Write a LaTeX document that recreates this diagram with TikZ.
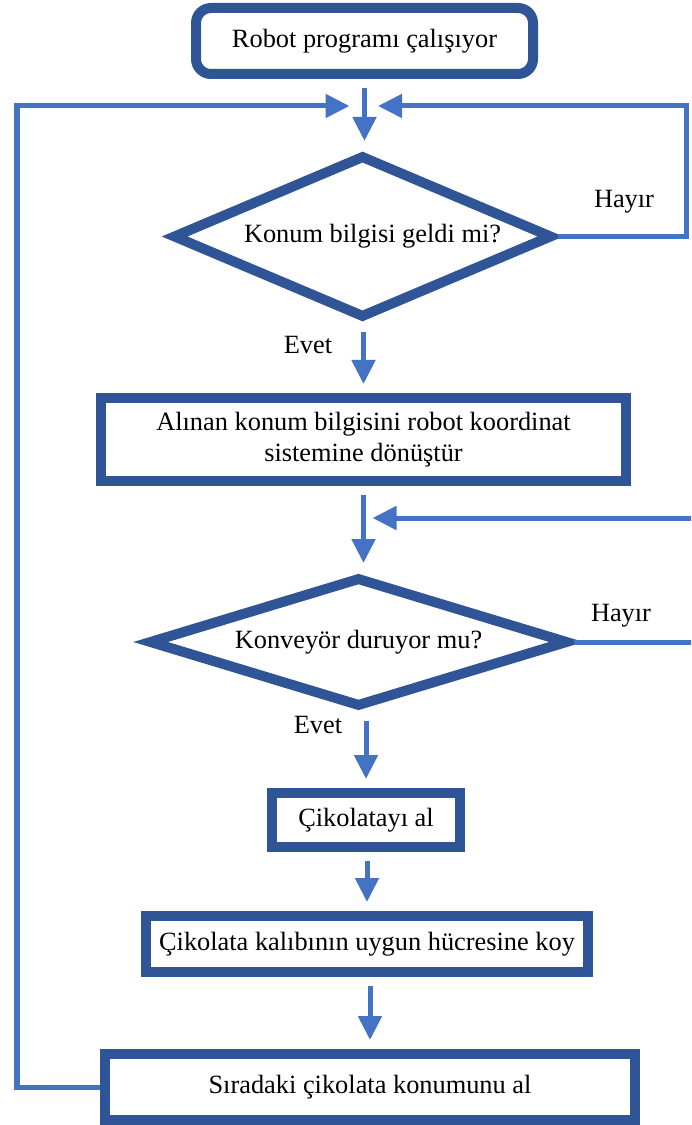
\documentclass[tikz,border=0pt]{standalone}
\usepackage{fontspec}
\setmainfont{Liberation Serif}
\usetikzlibrary{arrows.meta,shapes.geometric}

\definecolor{boxblue}{RGB}{47,85,151}
\definecolor{flowblue}{RGB}{68,114,196}

\begin{document}
\begin{tikzpicture}[>={Triangle[length=0.48cm,width=0.46cm]},
    font=\fontsize{15}{17.6}\selectfont,
    box/.style={draw=boxblue, line width=0.2cm, fill=white, inner sep=0pt, align=center},
    decision/.style={diamond, draw=boxblue, line width=0.2cm, fill=white, inner sep=0pt},
    flow/.style={->, draw=flowblue, line width=0.1cm, shorten <=0.18cm, shorten >=0.18cm},
    back/.style={->, draw=flowblue, line width=0.1cm}]

    \clip (0,0) rectangle (13.82,-22.5);

    % Baslangic
    \node[box, rounded corners=0.3cm, minimum width=6.74cm, minimum height=1.32cm] (start) at (7.29,-0.82) {Robot programı çalışıyor};

    % Konum kontrolu
    \node[decision, aspect=2.34, minimum width=7.6cm, minimum height=3.26cm] (konum) at (7.25,-4.73) {\raisebox{-0.08cm}{\hspace{0.4cm}Konum bilgisi geldi mi?}};
    \node (konumNo) at (12.48,-4.04) {Hayır};
    \node (konumYes) at (6.16,-6.9) {Evet};

    \node[box, minimum width=10.5cm, minimum height=1.66cm] (donustur) at (7.27,-8.79) {Alınan konum bilgisini robot koordinat\\ sistemine dönüştür};

    % Konveyor kontrolu
    \node[decision, aspect=3.3, minimum width=8.4cm, minimum height=2.6cm] (konveyor) at (7.17,-12.84) {Konveyör duruyor mu?};
    \node (konveyorNo) at (12.42,-12.32) {Hayır};
    \node (konveyorYes) at (6.36,-14.5) {Evet};

    \node[box, minimum width=3.76cm, minimum height=1.08cm] (al) at (7.32,-16.4) {Çikolatayı al};
    \node[box, minimum width=8.84cm, minimum height=1.12cm] (koy) at (7.34,-18.88) {Çikolata kalıbının uygun hücresine koy};
    \node[box, minimum width=10.6cm, minimum height=1.32cm] (sirada) at (7.4,-21.74) {Sıradaki çikolata konumunu al};

    % Birlesme noktalari
    \coordinate (joinA) at (7.29,-2.12);
    \coordinate (joinB) at (7.27,-10.36);
    \coordinate (leftTop) at (0.34,-2.12);
    \coordinate (rightTop) at (13.72,-2.12);
    \coordinate (edgeTop) at (14.3,-10.36);

    % Akis oklari
    \draw[flow] (start.south) -- (start.south |- konum.north);
    \draw[flow] (konum.south -| donustur) -- (donustur.north);
    \draw[flow] (donustur.south) -- (donustur.south |- konveyor.north);
    \draw[flow] (konveyor.south -| al) -- (al.north);
    \draw[flow] (al.south -| koy) -- (koy.north);
    \draw[flow] (koy.south -| sirada) -- (sirada.north);

    % Geri donusler
    \draw[back, shorten >=0.3cm] (sirada.west) -| (leftTop) -- (joinA);
    \draw[back, shorten >=0.27cm] (konum.east) -| (rightTop) -- (joinA);
    \draw[back, shorten >=0.18cm] (konveyor.east) -| (edgeTop) -- (joinB);

\end{tikzpicture}
\end{document}
